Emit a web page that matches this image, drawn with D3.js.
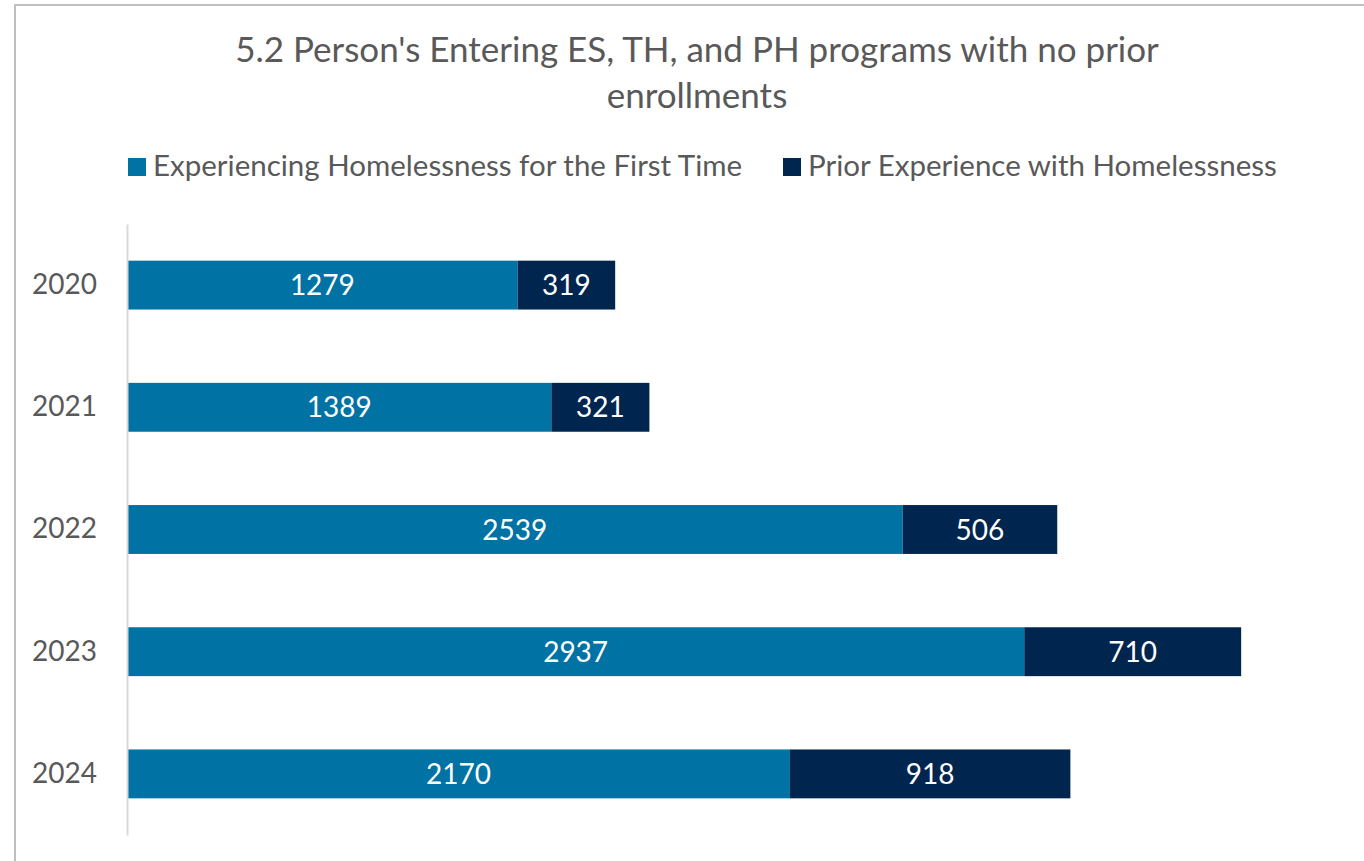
<!DOCTYPE html>
<html>
<head>
<meta charset="utf-8">
<script src="https://cdn.jsdelivr.net/npm/d3@7"></script>
<style>
  body { margin: 0; background: #fff; }
  svg { display: block; font-family: Lato, "Open Sans", sans-serif; }
</style>
</head>
<body>
<svg id="chart" width="1364" height="861"></svg>
<script>
// data
var years = ["2020", "2021", "2022", "2023", "2024"];
var firstTime = [1279, 1389, 2539, 2937, 2170];
var priorExp = [319, 321, 506, 710, 918];
var seriesNames = ["Experiencing Homelessness for the First Time", "Prior Experience with Homelessness"];
var colors = ["#0072a3", "#00264f"];

var svg = d3.select("#chart");

// chart border
svg.append("rect")
  .attr("x", 15).attr("y", 5)
  .attr("width", 1400).attr("height", 900)
  .attr("fill", "#fff")
  .attr("stroke", "#bfbfbf")
  .attr("stroke-width", 2);

// title
var title = svg.append("text")
  .attr("text-anchor", "middle")
  .attr("fill", "#595959")
  .style("font-size", "35px");
title.append("tspan").attr("x", 697).attr("y", 62).text("5.2 Person's Entering ES, TH, and PH programs with no prior");
title.append("tspan").attr("x", 697).attr("y", 108).text("enrollments");

// legend
var legX = [128, 783];
seriesNames.forEach(function(name, i) {
  var g = svg.append("g");
  g.append("rect")
    .attr("x", legX[i]).attr("y", 158)
    .attr("width", 18).attr("height", 18)
    .attr("fill", colors[i]);
  g.append("text")
    .attr("x", legX[i] + 25).attr("y", 176)
    .attr("fill", "#595959")
    .style("font-size", "29.5px")
    .text(name);
});

// scales
var x = d3.scaleLinear().domain([0, 4000]).range([127, 127 + 0.3055 * 4000]);
var y = d3.scaleBand().domain(years).range([224, 835]).paddingInner(0.6).paddingOuter(0.3);

// stacked rows
var rows = years.map(function(yr, i) {
  return { year: yr, a: firstTime[i], b: priorExp[i] };
});
var stack = d3.stack().keys(["a", "b"])(rows);

stack.forEach(function(layer, li) {
  var g = svg.append("g");
  g.selectAll("rect").data(layer).enter().append("rect")
    .attr("x", function(d) { return x(d[0]); })
    .attr("y", function(d) { return y(d.data.year); })
    .attr("width", function(d) { return x(d[1]) - x(d[0]); })
    .attr("height", y.bandwidth())
    .attr("fill", colors[li]);
  g.selectAll("text").data(layer).enter().append("text")
    .attr("x", function(d) { return (x(d[0]) + x(d[1])) / 2; })
    .attr("y", function(d) { return y(d.data.year) + y.bandwidth() / 2; })
    .attr("dy", "0.36em")
    .attr("text-anchor", "middle")
    .attr("fill", "#fff")
    .style("font-size", "28px")
    .text(function(d) { return d[1] - d[0]; });
});

// y axis
var yAxis = d3.axisLeft(y).tickSize(0).tickPadding(30);
var ag = svg.append("g").attr("transform", "translate(127,0)").call(yAxis);
ag.select(".domain").attr("stroke", "#d9d9d9").attr("stroke-width", 2);
ag.selectAll("text")
  .attr("fill", "#595959")
  .style("font-family", "Lato, 'Open Sans', sans-serif")
  .style("font-size", "28px");
</script>
</body>
</html>
